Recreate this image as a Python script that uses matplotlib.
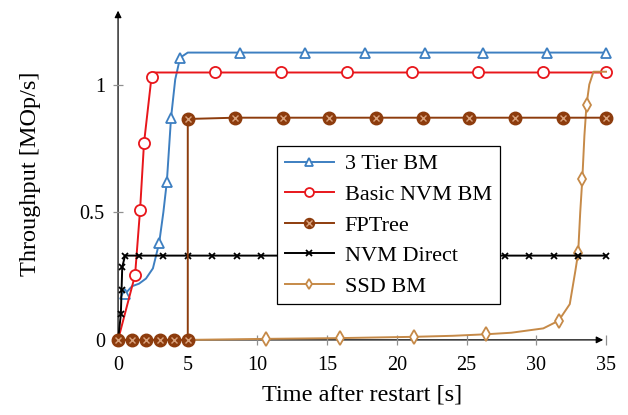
import matplotlib.pyplot as plt

plt.rcParams['font.family'] = ['Liberation Serif', 'DejaVu Serif']

# 3 Tier BM
t_tier = [0.5, 1.0, 1.5, 2.0, 2.5, 2.95, 3.25, 3.5, 3.8, 4.1, 4.45, 5.0, 8.75, 13.4, 17.7, 22.0, 26.2, 30.8, 35.0]
v_tier = [0.18, 0.21, 0.22, 0.24, 0.28, 0.38, 0.50, 0.62, 0.87, 1.02, 1.105, 1.125, 1.125, 1.125, 1.125, 1.125, 1.125, 1.125, 1.125]
m_tier = [0, 5, 7, 8, 10, 12, 13, 14, 15, 16, 17, 18]

# Basic NVM BM
t_basic = [0.0, 1.22, 1.58, 1.86, 2.4, 2.6, 6.96, 11.7, 16.4, 21.1, 25.8, 30.5, 35.0]
v_basic = [0.0, 0.254, 0.51, 0.77, 1.03, 1.047, 1.047, 1.047, 1.047, 1.047, 1.047, 1.047, 1.047]
m_basic = [0, 1, 2, 3, 4, 6, 7, 8, 9, 10, 11, 12]

# FPTree
t_fp = [0, 1, 2, 3, 4, 5, 5, 8.4, 11.8, 15.1, 18.5, 21.9, 25.2, 28.5, 31.9, 35.0]
v_fp = [0, 0, 0, 0, 0, 0, 0.865, 0.87, 0.87, 0.87, 0.87, 0.87, 0.87, 0.87, 0.87, 0.87]

# NVM Direct
t_nvm = [0.0, 0.2, 0.25, 0.3, 0.5, 1.5, 3.25, 5.0, 6.75, 8.5, 10.25, 12.0, 13.75, 15.5, 17.25,
         19.0, 20.75, 22.5, 24.25, 26.0, 27.75, 29.5, 31.25, 33.0, 35.0]
v_nvm = [0.0, 0.1, 0.195, 0.285, 0.33, 0.33, 0.33, 0.33, 0.33, 0.33, 0.33, 0.33, 0.33, 0.33, 0.33,
         0.33, 0.33, 0.33, 0.33, 0.33, 0.33, 0.33, 0.33, 0.33, 0.33]
m_nvm = list(range(1, 25))

# SSD BM
t_ssd = [0.0, 5.0, 10.6, 15.9, 21.2, 24.0, 26.4, 28.2, 30.5, 31.6, 32.4, 32.8, 33.0, 33.15,
         33.3, 33.45, 33.6, 33.8, 34.1, 35.0]
v_ssd = [0.0, 0.0, 0.004, 0.007, 0.012, 0.016, 0.022, 0.028, 0.045, 0.075, 0.14, 0.27, 0.34, 0.5,
         0.63, 0.8, 0.92, 1.0, 1.05, 1.05]
m_ssd = [2, 3, 4, 6, 9, 12, 14, 16]

c_blue = '#3d7fc1'
c_red = '#e8161b'
c_brown = '#8d3c0d'
c_tan = '#c68a48'

fig = plt.figure(figsize=(6.28, 4.15), dpi=100)
ax = fig.add_axes([0.188, 0.181, 0.777, 0.8])

lw = 1.4
l_tier, = ax.plot(t_tier, v_tier, color=c_blue, lw=lw, marker='^', ms=7, mfc='white', mew=1.3,
                  markevery=m_tier, clip_on=False, zorder=3)
l_basic, = ax.plot(t_basic, v_basic, color=c_red, lw=lw, marker='o', ms=8, mfc='white', mew=1.3,
                   markevery=m_basic, clip_on=False, zorder=3)
l_ssd, = ax.plot(t_ssd, v_ssd, color=c_tan, lw=lw, marker='d', ms=7, mfc='white', mew=1.3,
                 markevery=m_ssd, clip_on=False, zorder=3)
l_nvm, = ax.plot(t_nvm, v_nvm, color='black', lw=lw, marker='x', ms=5, mew=1.3,
                 markevery=m_nvm, clip_on=False, zorder=4)
l_fp, = ax.plot(t_fp, v_fp, color=c_brown, lw=lw, marker='o', ms=9, mfc=c_brown, mec=c_brown,
                clip_on=False, zorder=5)
l_fpx, = ax.plot(t_fp, v_fp, ls='none', marker='x', ms=5, mew=1.0, color='#d9a27c',
                 clip_on=False, zorder=6)

ax.set_xlim(0, 35)
ax.set_ylim(0, 1.3)
ax.set_xticks([0, 5, 10, 15, 20, 25, 30, 35])
ax.set_yticks([0, 0.5, 1])
ax.set_yticklabels(['0', '0.5', '1'])
ax.tick_params(direction='inout', length=7, width=0.9, color='#909090', labelsize=14.5)
ax.tick_params(axis='x', pad=8)
ax.tick_params(axis='y', pad=6)

for s in ax.spines.values():
    s.set_visible(False)
ax.annotate('', xy=(1, 0), xytext=(0, 0), xycoords='axes fraction',
            arrowprops=dict(arrowstyle='-|>', lw=0.9, color='black', mutation_scale=10), zorder=1)
ax.annotate('', xy=(0, 1), xytext=(0, 0), xycoords='axes fraction',
            arrowprops=dict(arrowstyle='-|>', lw=0.9, color='black', mutation_scale=10), zorder=1)

ax.set_xlabel('Time after restart [s]', fontsize=17.5, labelpad=7)
ax.set_ylabel('Throughput [MOp/s]', fontsize=17.5, labelpad=28)

leg = ax.legend([l_tier, l_basic, (l_fp, l_fpx), l_nvm, l_ssd],
                ['3 Tier BM', 'Basic NVM BM', 'FPTree', 'NVM Direct', 'SSD BM'],
                loc='upper left', bbox_to_anchor=(0.303, 0.617), fontsize=16,
                frameon=True, fancybox=False, edgecolor='black', framealpha=1,
                handlelength=2.2, labelspacing=0.45, borderpad=0.35, handletextpad=0.5,
                markerscale=0.8)
leg.get_frame().set_linewidth(0.9)
leg.set_zorder(10)

fig.savefig('out.png', dpi=100)
